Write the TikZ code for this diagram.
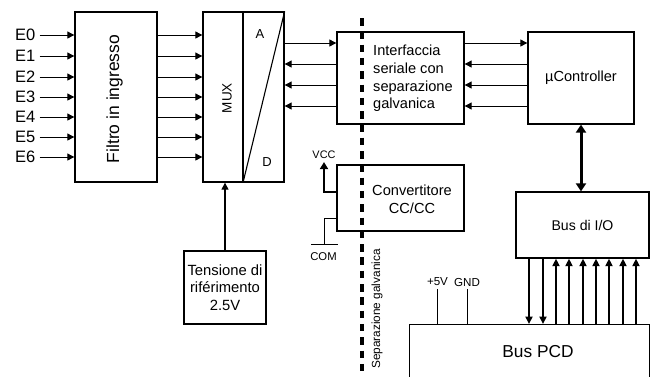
\documentclass[tikz,border=0pt]{standalone}
\usepackage{fontspec}
\setmainfont{Liberation Sans}
\usetikzlibrary{arrows.meta}
\newcommand{\fsz}[1]{\fontsize{#1}{18}\selectfont}
\begin{document}
\begin{tikzpicture}[x=1pt,y=-1pt,
  blk/.style={draw, line width=1.3pt, inner sep=0pt, align=center},
  arr/.style={line width=0.9pt, -{Triangle[length=7pt,width=7pt]}},
  rarr/.style={line width=0.9pt, {Triangle[length=7pt,width=7pt]}-},
  busarr/.style={line width=1.9pt, -{Triangle[length=7.5pt,width=7pt]}},
  lbl/.style={inner sep=0pt, font=\fsz{16.5}},
  small/.style={inner sep=0pt, font=\fsz{11.3}},
  txt/.style={font=\fontsize{14.6}{17.7}\selectfont, align=center}
]
\useasboundingbox (0,0) rectangle (651,376);
\begin{scope}
\clip (0,0) rectangle (651,376);
% blocks
\node[blk, minimum width=82pt, minimum height=170pt] (filt) at (116,97) {};
\node[rotate=90, font=\fsz{17.5}] (filtt) at (114.5,99) {Filtro in ingresso};
\node[blk, minimum width=81pt, minimum height=170pt] (mux) at (243.5,97) {};
\node[blk, minimum width=127pt, minimum height=92pt] (intf) at (400.5,78) {};
\node[txt, align=left, anchor=west, inner sep=0pt] (intft) at (373,78.5) {Interfaccia\\seriale con\\separazione\\galvanica};
\node[blk, minimum width=106pt, minimum height=92pt, txt] (uc) at (581,78) {µController};
\node[blk, minimum width=127pt, minimum height=66pt] (conv) at (400.5,198) {};
\node[txt, inner sep=0pt] (convt) at (412,199) {Convertitore\\CC/CC};
\node[blk, minimum width=82pt, minimum height=73pt, txt, font=\fontsize{14.8}{17.5}\selectfont] (tens) at (225,287.5) {Tensione di\\riférimento\\2.5V};
\node[blk, minimum width=133pt, minimum height=66pt, txt, font=\fsz{14.1}] (io) at (582.5,225) {Bus di I/O};
\node[blk, minimum width=240pt, minimum height=100pt, anchor=north west] (pcd) at (409,324) {};
\node[font=\fsz{17.3}] (pcdt) at (538,352) {Bus PCD};

% MUX interior
\coordinate (mi) at (243,12);
\draw[line width=1.1pt] (mi) -- (mi |- mux.south);
\draw[line width=1.1pt] (mi |- mux.south) -- (mux.north east);
\node[font=\fsz{13}] (ma) at (260,34) {A};
\node[font=\fsz{13}] (md) at (267,162) {D};
\node[rotate=90, font=\fsz{13.5}] (mt) at (227,98) {MUX};

% inputs
\foreach \i/\y in {0/35,1/56,2/77,3/97,4/117,5/137,6/157}{
  \node[lbl, anchor=east] (e\i) at (35.5,\y) {E\i};
  \draw[arr] ([xshift=4pt]e\i.east) -- (e\i -| filt.west);
  \coordinate (f\i) at (160,\y);
  \draw[arr] (f\i -| filt.east) -- (f\i -| mux.west);
}

% MUX <-> interface
\coordinate (r0) at (300,43);
\draw[arr] (r0 -| mux.east) -- (r0 -| intf.west);
\draw[arr] (r0 -| intf.east) -- (r0 -| uc.west);
\foreach \y [count=\k] in {64,85,106}{
  \coordinate (r\k) at (300,\y);
  \draw[rarr] (r\k -| mux.east) -- (r\k -| intf.west);
  \draw[rarr] (r\k -| intf.east) -- (r\k -| uc.west);
}

% uC <-> IO
\draw[line width=3pt, {Triangle[length=8pt,width=10pt]}-{Triangle[length=8pt,width=10pt]}] (uc.south) -- (uc.south |- io.north);

% reference
\draw[arr, line width=1.1pt] (tens.north) -- (tens.north |- mux.south);

% VCC / COM
\coordinate (vc) at (324,192);
\coordinate (cm) at (324,218);
\node[small, font=\fsz{10.9}] (vcc) at (324,155) {VCC};
\draw[line width=2pt, -{Triangle[length=7pt,width=8pt]}] (vc -| conv.west) -- (vc) -- ([yshift=-3pt]vcc.south);
\node[small] (com) at (323.5,257) {COM};
\draw[line width=0.9pt] (cm -| conv.west) -- (cm) -- (324,244);
\draw[line width=0.9pt] (311,244) -- (338,244);

% dashed separation
\draw[line width=3.2pt, dash pattern=on 7.5pt off 5.8pt] (362,18) -- (362,380);
\node[small, rotate=90, font=\fsz{11.8}] (sep) at (377,309) {Separazione galvanica};

% power labels
\node[small, font=\fsz{11.6}] (p5) at (437.5,282) {+5V};
\node[small, font=\fsz{11.6}] (gnd) at (467,282) {GND};
\draw[line width=0.9pt] ([yshift=-3pt]p5.south) -- (p5 |- pcd.north);
\draw[line width=0.9pt] ([yshift=-3pt]gnd.south) -- (gnd |- pcd.north);

% bus arrows
\foreach \x in {529,543}{
  \draw[busarr] (\x,0 |- io.south) -- (\x,0 |- pcd.north);
}
\foreach \x in {556,569,583,596,609,623,636}{
  \draw[busarr] (\x,0 |- pcd.north) -- (\x,0 |- io.south);
}
\end{scope}
\end{tikzpicture}
\end{document}
